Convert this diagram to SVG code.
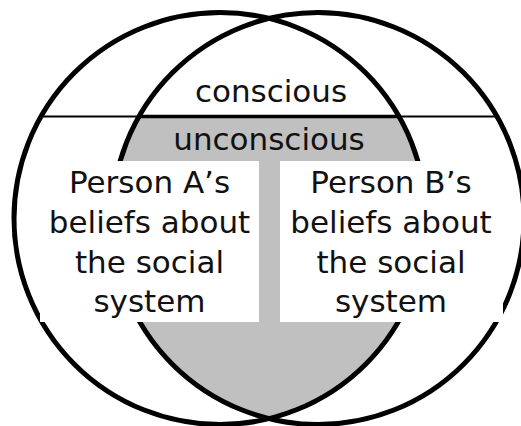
<svg xmlns="http://www.w3.org/2000/svg" width="521" height="426" viewBox="0 0 521 426">
<style>
.ring{fill:none;stroke:#000;stroke-width:5}
.box{fill:#fff;stroke:none}
.t{font-family:"DejaVu Sans",sans-serif;font-size:31px;fill:#111;text-anchor:middle}
</style>
<rect width="521" height="426" fill="#fff"/>
<g id="lens-unconscious">
<path d="M139,116.5 L399,116.5 A206 206 0 0 1 269,418.6 A206 206 0 0 1 139,116.5 Z" fill="#c0c0c0"/>
</g>
<g id="circle-person-a"><circle class="ring" cx="220" cy="218.5" r="206"/></g>
<g id="circle-person-b"><circle class="ring" cx="318" cy="218.5" r="206"/></g>
<g id="connectors">
<line x1="41" y1="116.5" x2="497" y2="116.5" stroke="#000" stroke-width="2"/>
<line x1="139" y1="116.5" x2="399" y2="116.5" stroke="#000" stroke-width="3.5"/>
</g>
<g id="label-conscious"><text class="t" x="271" y="102">conscious</text></g>
<g id="label-unconscious"><text class="t" x="269" y="150">unconscious</text></g>
<g id="box-person-a">
<rect class="box" x="40" y="161" width="219" height="161"/>
<text class="t" x="149.5" y="193">Person A’s</text>
<text class="t" x="149.5" y="233">beliefs about</text>
<text class="t" x="149.5" y="273">the social</text>
<text class="t" x="149.5" y="312">system</text>
</g>
<g id="box-person-b">
<rect class="box" x="280" y="161" width="223" height="161"/>
<text class="t" x="391" y="193">Person B’s</text>
<text class="t" x="391" y="233">beliefs about</text>
<text class="t" x="391" y="273">the social</text>
<text class="t" x="391" y="312">system</text>
</g>
</svg>
